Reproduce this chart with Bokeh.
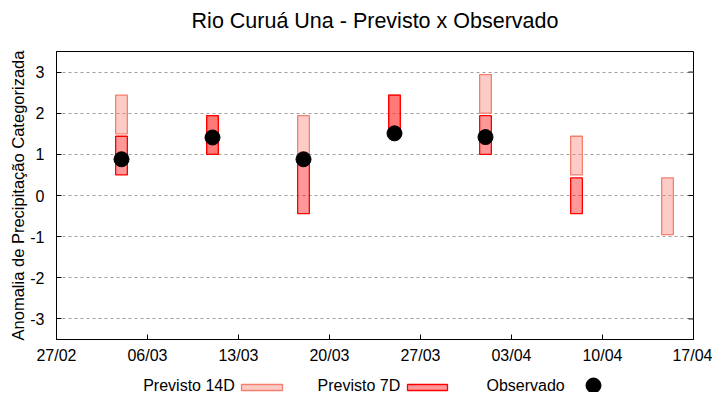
import numpy as np
import pandas as pd
from bokeh.plotting import figure
from bokeh.models import Range1d, FixedTicker, DatetimeTickFormatter, ColumnDataSource
from bokeh.layouts import column
from bokeh.core.properties import value
from bokeh.embed import file_html
from bokeh.resources import INLINE

# ---- data ----
weeks = ["2021-03-04", "2021-03-11", "2021-03-18", "2021-03-25",
         "2021-04-01", "2021-04-08", "2021-04-15"]
prev14_low = [1.50, 1.00, 1.00, 1.50, 2.00, 0.50, -0.95]
prev14_high = [2.44, 1.94, 1.94, 2.44, 2.94, 1.44, 0.43]
prev7_low = [0.50, 1.00, -0.44, 1.50, 1.00, -0.44, np.nan]
prev7_high = [1.44, 1.94, 0.94, 2.44, 1.94, 0.43, np.nan]
observed = [0.88, 1.41, 0.88, 1.51, 1.42, np.nan, np.nan]

x_ticks = ["2021-02-27", "2021-03-06", "2021-03-13", "2021-03-20",
           "2021-03-27", "2021-04-03", "2021-04-10", "2021-04-17"]
y_ticks = [-3, -2, -1, 0, 1, 2, 3]
y_min, y_max = -3.5, 3.5

title = "Rio Curuá Una - Previsto x Observado"
y_label = "Anomalia de Precipitação Categorizada"
legend_labels = ["Previsto 14D", "Previsto 7D", "Observado"]

FONT = "Liberation Sans"
C14_FILL, C14_LINE = "#FA8072", "#F47F6F"
C7_FILL, C7_LINE = "#FF0000", "#FF0000"

dates = pd.to_datetime(weeks)
day_ms = 86400000.0
bar_w = 0.9 * day_ms

def filt(lo, hi):
    lo = np.array(lo, dtype=float); hi = np.array(hi, dtype=float)
    m = ~(np.isnan(lo) | np.isnan(hi))
    return ColumnDataSource(dict(x=dates[m], bottom=lo[m], top=hi[m]))

src14 = filt(prev14_low, prev14_high)
src7 = filt(prev7_low, prev7_high)
obs = np.array(observed, dtype=float)
mo = ~np.isnan(obs)
src_obs = ColumnDataSource(dict(x=dates[mo], y=obs[mo]))

tick_ms = [pd.Timestamp(t).value / 1e6 for t in x_ticks]
x_start, x_end = pd.Timestamp(x_ticks[0]), pd.Timestamp(x_ticks[-1])

# layout (page pixels)
W = 712
H_TITLE, H_MAIN, H_LEG = 47, 319, 26
FR_L, FR_R = 56, 693

def strip(h, y0):
    f = figure(width=W, height=h, x_range=Range1d(FR_L, FR_R),
               y_range=Range1d(y0 + h, y0), title=None,
               toolbar_location=None, output_backend="svg",
               min_border_left=FR_L, min_border_right=W - FR_R,
               min_border_top=0, min_border_bottom=0,
               x_axis_location=None, y_axis_location=None)
    f.grid.visible = False
    f.outline_line_color = None
    return f

# ---- title strip ----
top = strip(H_TITLE, 0)
top.text(x=[(FR_L + FR_R) / 2], y=[20.5], text=[title], text_align="center",
         text_baseline="middle", text_font=value(FONT), text_font_size="21.5px",
         text_color="black")

# ---- main plot ----
p = figure(width=W, height=H_MAIN, x_axis_type="datetime", title=None,
           x_range=Range1d(x_start, x_end),
           y_range=Range1d(y_min, y_max),
           toolbar_location=None, output_backend="svg",
           min_border_left=FR_L, min_border_right=W - FR_R,
           min_border_top=4, min_border_bottom=27)

p.vbar(x="x", width=bar_w, bottom="bottom", top="top", source=src14,
       fill_color=C14_FILL, fill_alpha=0.4, line_color=C14_LINE, line_width=1.3)
p.vbar(x="x", width=bar_w, bottom="bottom", top="top", source=src7,
       fill_color=C7_FILL, fill_alpha=0.4, line_color=C7_LINE, line_width=1.3)
p.scatter(x="x", y="y", source=src_obs, size=15, color="black")

# inward ticks mirrored on the right border
p.ray(x=[x_end] * len(y_ticks), y=y_ticks, length=5, length_units="screen",
      angle=np.pi, line_color="black", line_width=1)

p.xaxis.ticker = FixedTicker(ticks=tick_ms)
p.xaxis.formatter = DatetimeTickFormatter(
    milliseconds="%d/%m", seconds="%d/%m", minsec="%d/%m", minutes="%d/%m",
    hourmin="%d/%m", hours="%d/%m", days="%d/%m", months="%d/%m", years="%d/%m")
p.yaxis.ticker = FixedTicker(ticks=y_ticks)
p.yaxis.major_label_overrides = {t: str(t) for t in y_ticks}
p.yaxis.axis_label = y_label

for ax in [p.xaxis[0], p.yaxis[0]]:
    ax.major_tick_in = 5
    ax.major_tick_out = 0
    ax.minor_tick_line_color = None
    ax.axis_line_color = "black"
    ax.major_tick_line_color = "black"
    ax.major_label_text_font = FONT
    ax.major_label_text_font_size = "16px"
    ax.major_label_text_color = "black"
    ax.axis_label_text_font = FONT
    ax.axis_label_text_font_size = "16.5px"
    ax.axis_label_text_font_style = "normal"
    ax.axis_label_text_color = "black"
p.xaxis.major_label_standoff = 7
p.yaxis.major_label_standoff = 12
p.yaxis.axis_label_standoff = 0

p.xgrid.visible = False
p.ygrid.grid_line_color = "#a0a0a0"
p.ygrid.grid_line_dash = "3 3"
p.ygrid.grid_line_width = 1
p.outline_line_color = "black"
p.outline_line_alpha = 1
p.background_fill_color = "white"

# ---- legend strip ----
leg = strip(H_LEG, H_TITLE + H_MAIN)
leg_text_x = [142.7, 317, 486]
leg.text(x=leg_text_x, y=[384.5] * 3, text=legend_labels, text_baseline="middle",
         text_align="left", text_font=value(FONT), text_font_size="16px",
         text_color="black")
leg.quad(left=[241], right=[282], top=[384], bottom=[390],
         fill_color=C14_FILL, fill_alpha=0.4, line_color=C14_LINE, line_width=1.3)
leg.quad(left=[407], right=[447], top=[384], bottom=[390],
         fill_color=C7_FILL, fill_alpha=0.4, line_color=C7_LINE, line_width=1.3)
leg.scatter(x=[593], y=[385], size=15, color="black")

layout = column(top, p, leg, spacing=0)
open("out.html", "w").write(file_html(layout, INLINE))
